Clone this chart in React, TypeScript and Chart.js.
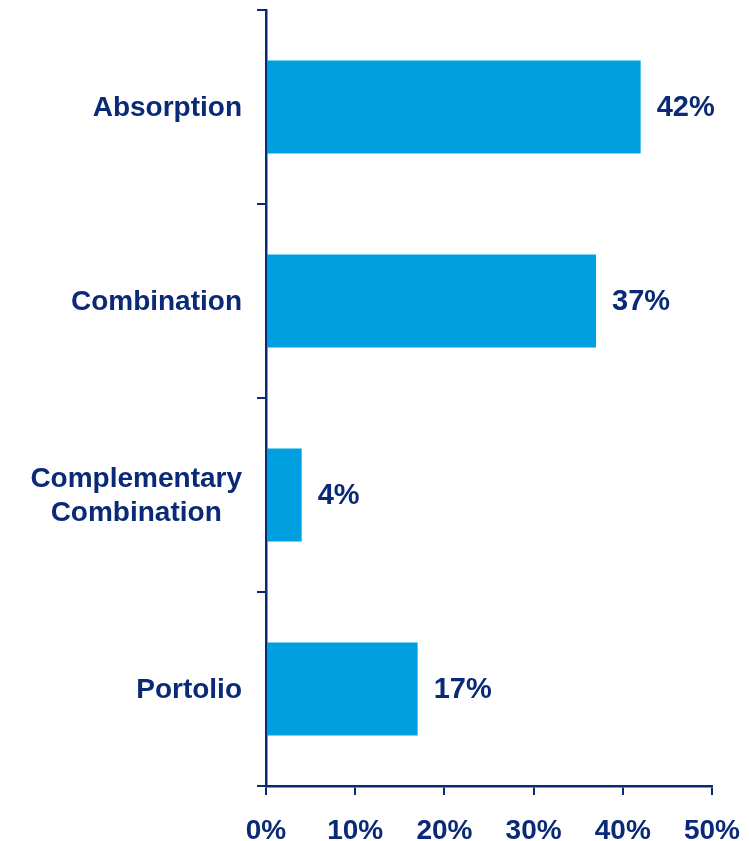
import React, { useEffect, useRef } from "react";
import { Chart, registerables } from "chart.js";

Chart.register(...registerables);

const categories: (string | string[])[] = [
  "Absorption",
  "Combination",
  ["Complementary", "Combination"],
  "Portolio",
];
const shares: number[] = [42, 37, 4, 17];
const xTicks: number[] = [0, 10, 20, 30, 40, 50];

const NAVY = "#0a2977";
const BLUE = "#009fe0";
const FONT = "'Liberation Sans', Arial, sans-serif";

const valueLabels = {
  id: "valueLabels",
  afterDatasetsDraw(chart: any) {
    const ctx = chart.ctx;
    const meta = chart.getDatasetMeta(0);
    ctx.save();
    ctx.font = `bold 29px ${FONT}`;
    ctx.fillStyle = NAVY;
    ctx.textAlign = "left";
    ctx.textBaseline = "middle";
    meta.data.forEach((bar: any, i: number) => {
      ctx.fillText(`${shares[i]}%`, bar.x + 16, bar.y + 1);
    });
    ctx.restore();
  },
};

const categoryLabels = {
  id: "categoryLabels",
  afterDraw(chart: any) {
    const ctx = chart.ctx;
    const yScale = chart.scales.y;
    const right = chart.chartArea.left - 24;
    const lineH = 34;
    ctx.save();
    ctx.font = `bold 28px ${FONT}`;
    ctx.fillStyle = NAVY;
    ctx.textAlign = "center";
    ctx.textBaseline = "middle";
    categories.forEach((label, i) => {
      const lines = Array.isArray(label) ? label : [label];
      const maxW = Math.max(...lines.map((l) => ctx.measureText(l).width));
      const cx = right - maxW / 2;
      const cy = yScale.getPixelForTick(i) + 1;
      lines.forEach((line, j) => {
        const y = cy + (j - (lines.length - 1) / 2) * lineH;
        ctx.fillText(line, cx, y);
      });
    });
    ctx.restore();
  },
};

export default function App() {
  const ref = useRef<HTMLCanvasElement>(null);
  useEffect(() => {
    document.body.style.margin = "0";
    const chart = new Chart(ref.current!, {
      type: "bar",
      data: {
        labels: categories,
        datasets: [
          {
            data: shares,
            backgroundColor: BLUE,
            barPercentage: 0.48,
            categoryPercentage: 1,
          },
        ],
      },
      options: {
        indexAxis: "y",
        responsive: false,
        animation: false,
        layout: { padding: { top: 10, right: 37, left: 0, bottom: 0 } },
        plugins: { legend: { display: false }, tooltip: { enabled: false } },
        scales: {
          x: {
            min: 0,
            max: 50,
            afterBuildTicks: (scale: any) => {
              scale.ticks = xTicks.map((v) => ({ value: v }));
            },
            ticks: {
              callback: (v: any) => `${v}%`,
              color: NAVY,
              font: { family: FONT, size: 28, weight: "bold" },
              padding: 19,
              maxRotation: 0,
            },
            grid: {
              drawOnChartArea: false,
              drawTicks: true,
              tickLength: 9,
              color: NAVY,
              lineWidth: 2,
            },
            border: { color: NAVY, width: 2.5 },
            afterFit: (scale: any) => {
              scale.height = 841 - 786;
              scale.paddingLeft = 0;
              scale.paddingRight = 0;
            },
          },
          y: {
            ticks: {
              color: "rgba(0,0,0,0)",
              font: { family: FONT, size: 28, weight: "bold" },
              padding: 16,
            },
            grid: {
              drawOnChartArea: false,
              drawTicks: true,
              tickLength: 9,
              color: NAVY,
              lineWidth: 2,
              offset: true,
            },
            border: { color: NAVY, width: 2.5 },
            afterFit: (scale: any) => {
              scale.width = 266;
              scale.paddingTop = 0;
              scale.paddingBottom = 0;
            },
          },
        },
      },
      plugins: [valueLabels, categoryLabels],
    });
    return () => chart.destroy();
  }, []);
  return <canvas ref={ref} width={749} height={841} style={{ display: "block" }} />;
}
